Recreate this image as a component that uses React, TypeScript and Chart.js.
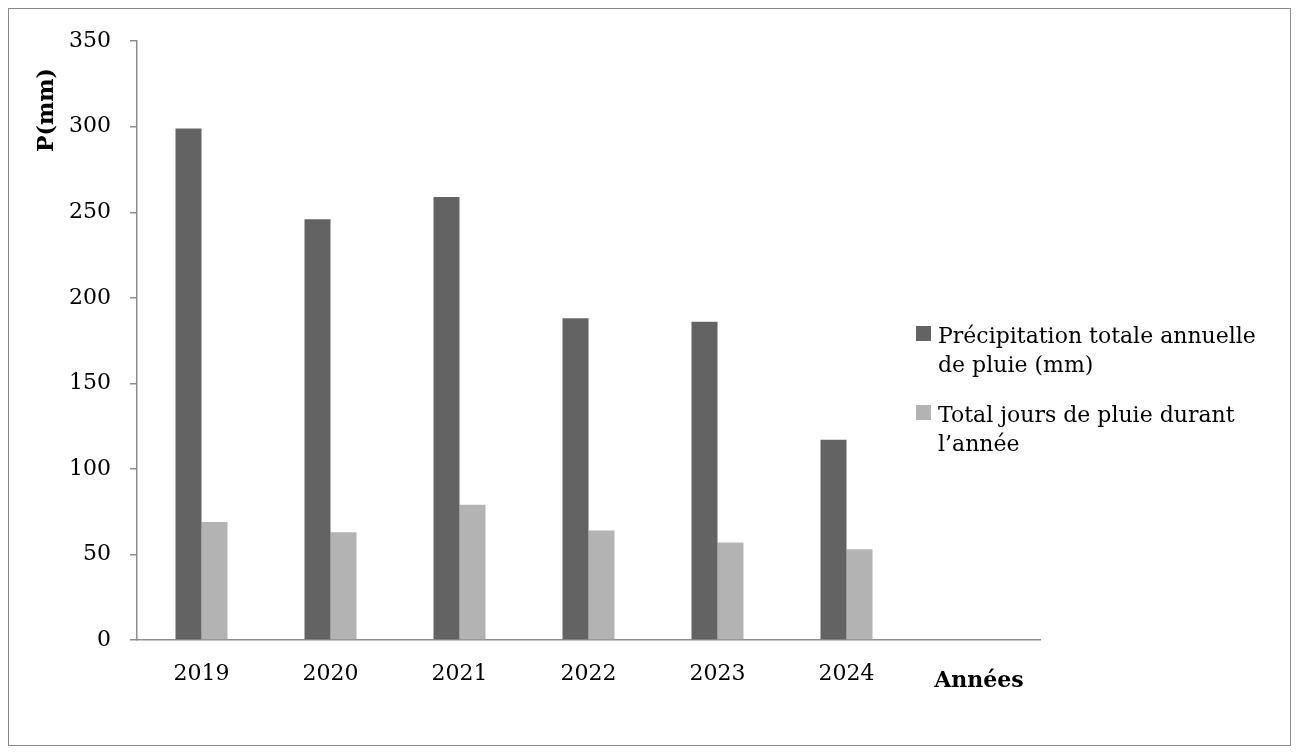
import React, { useEffect, useRef } from "react";
import { Chart, registerables } from "chart.js";

Chart.register(...registerables);

const categories: string[] = ["2019", "2020", "2021", "2022", "2023", "2024", ""];
const precipitation: number[] = [299, 246, 259, 188, 186, 117];
const rainyDays: number[] = [69, 63, 79, 64, 57, 53];
const seriesNames: string[][] = [
  ["Précipitation totale annuelle", "de pluie (mm)"],
  ["Total jours de pluie durant", "l\u2019année"],
];
const seriesColors: string[] = ["#636363", "#b3b3b3"];
const yTitle = "P(mm)";
const xTitle = "Années";

const FONT = "'DejaVu Serif', serif";

const overlayPlugin = {
  id: "overlay",
  afterDraw(chart: any) {
    const ctx = chart.ctx as CanvasRenderingContext2D;
    ctx.save();
    // Y axis title
    ctx.fillStyle = "#000";
    ctx.font = `bold 22px ${FONT}`;
    ctx.textAlign = "center";
    ctx.textBaseline = "middle";
    ctx.translate(38, 101);
    ctx.rotate(-Math.PI / 2);
    ctx.fillText(yTitle, 0, 0);
    ctx.restore();

    ctx.save();
    ctx.fillStyle = "#000";
    ctx.font = `bold 22px ${FONT}`;
    ctx.textAlign = "center";
    ctx.textBaseline = "middle";
    ctx.fillText(xTitle, 970, 672);
    ctx.restore();

    // Legend
    ctx.save();
    ctx.font = `22px ${FONT}`;
    ctx.textAlign = "left";
    ctx.textBaseline = "alphabetic";
    const datasets = chart.data.datasets;
    const firstBaselines = [334, 413];
    datasets.forEach((ds: any, i: number) => {
      const base = firstBaselines[i];
      ctx.fillStyle = ds.backgroundColor as string;
      ctx.fillRect(907, base - 17, 15, 15);
      ctx.fillStyle = "#000";
      const lines: string[] = seriesNames[i];
      lines.forEach((ln, j) => {
        ctx.fillText(ln, 929, base + j * 28.5);
      });
    });
    ctx.restore();
  },
};

export default function App() {
  const ref = useRef<HTMLCanvasElement | null>(null);
  useEffect(() => {
    if (!ref.current) return;
    const chart = new Chart(ref.current, {
      type: "bar",
      data: {
        labels: categories,
        datasets: [
          {
            label: seriesNames[0].join(" "),
            data: precipitation,
            backgroundColor: seriesColors[0],
            categoryPercentage: 0.403,
            barPercentage: 1,
          },
          {
            label: seriesNames[1].join(" "),
            data: rainyDays,
            backgroundColor: seriesColors[1],
            categoryPercentage: 0.403,
            barPercentage: 1,
          },
        ],
      },
      options: {
        responsive: false,
        animation: false,
        devicePixelRatio: 1,
        layout: { padding: { top: 30, right: 250, left: 0, bottom: 0 } },
        plugins: {
          legend: { display: false },
          tooltip: { enabled: false },
        },
        scales: {
          x: {
            grid: { drawOnChartArea: false, drawTicks: false },
            border: { display: true, color: "#8e8e8e", width: 1.5 },
            ticks: {
              color: "#000",
              font: { family: FONT, size: 22 },
              padding: 21,
              maxRotation: 0,
              autoSkip: false,
            },
            afterFit: (s: any) => {
              s.height = 105;
            },
          },
          y: {
            min: 0,
            max: 350,
            grid: {
              drawOnChartArea: false,
              drawTicks: true,
              tickLength: 7,
              color: "#8e8e8e",
              lineWidth: 1.5,
            },
            border: { display: true, color: "#8e8e8e", width: 1.5 },
            ticks: {
              stepSize: 50,
              color: "#000",
              font: { family: FONT, size: 22 },
              padding: 19,
            },
            afterFit: (s: any) => {
              s.width = 128;
            },
          },
        },
      },
      plugins: [overlayPlugin],
    });
    return () => chart.destroy();
  }, []);

  return (
    <div
      style={{
        width: 1283,
        height: 738,
        border: "1px solid #8a8a8a",
        boxSizing: "border-box",
        background: "#fff",
      }}
    >
      <canvas ref={ref} width={1281} height={736} style={{ display: "block", width: 1281, height: 736 }} />
    </div>
  );
}
